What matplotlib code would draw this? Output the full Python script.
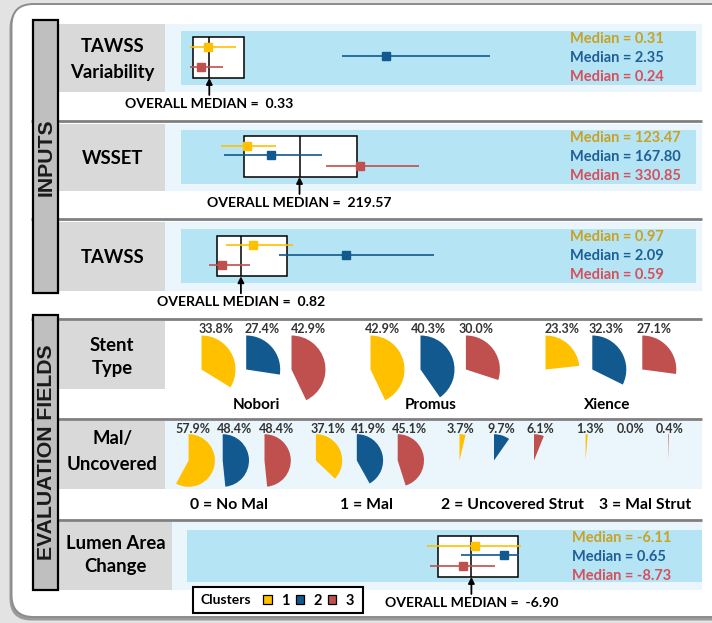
import matplotlib
matplotlib.use('Agg')
import matplotlib.pyplot as plt
from matplotlib.patches import Rectangle, FancyBboxPatch

# ---------------- data ----------------
clusters = ['1', '2', '3']

tawssv_median = [0.31, 2.35, 0.24]
tawssv_lo = [0.114, 1.85, 0.114]
tawssv_hi = [0.641, 3.55, 0.484]
tawssv_overall = 0.33
tawssv_box = [0.146, 0.729]

wsset_median = [123.47, 167.80, 330.85]
wsset_lo = [74.9, 80.6, 267.9]
wsset_hi = [175.5, 260.3, 440.0]
wsset_overall = 219.57
wsset_box = [116.8, 325.0]

tawss_median = [0.97, 2.09, 0.59]
tawss_lo = [0.64, 1.28, 0.43]
tawss_hi = [1.45, 3.14, 0.93]
tawss_overall = 0.82
tawss_box = [0.53, 1.37]

lumen_median = [-6.11, 0.65, -8.73]
lumen_lo = [-17.0, -9.2, -16.5]
lumen_hi = [4.4, 4.1, -1.4]
lumen_overall = -6.90
lumen_box = [-14.6, 3.8]

stent_types = ['Nobori', 'Promus', 'Xience']
stent_nobori = [33.8, 27.4, 42.9]
stent_promus = [42.9, 40.3, 30.0]
stent_xience = [23.3, 32.3, 27.1]

mal_labels = ['0 = No Mal', '1 = Mal', '2 = Uncovered Strut', '3 = Mal Strut']
mal_0 = [57.9, 48.4, 48.4]
mal_1 = [37.1, 41.9, 45.1]
mal_2 = [3.7, 9.7, 6.1]
mal_3 = [1.3, 0.0, 0.4]

# ---------------- style ----------------
W, H = 712, 623
FONT = ['Lato', 'DejaVu Sans']
BANNER_FONT = ['Liberation Sans Narrow', 'Liberation Sans', 'DejaVu Sans']
C_FILL = ['#FFC000', '#11598F', '#C0504D']
C_TEXT = ['#C9A124', '#1F5F96', '#D4505C']
BAND = '#B5E4F5'
BAND_LIGHT = '#EAF6FC'
LABEL_GRAY = '#D9D9D9'
SEP = '#808080'

fig = plt.figure(figsize=(W / 100, H / 100), dpi=100)
fig.patch.set_facecolor('#E3E3E3')
bg = fig.add_axes([0, 0, 1, 1], zorder=0)
bg.set_xlim(0, W)
bg.set_ylim(H, 0)
bg.axis('off')


def px_axes(x0, y0, x1, y1, z=2):
    return fig.add_axes([x0 / W, 1 - y1 / H, (x1 - x0) / W, (y1 - y0) / H], zorder=z)


def ctext(x, y, s, size, ax=None, ha='center', color='black', weight='bold', family=FONT, **kw):
    """Place text with its cap-height centre at pixel y (bg coordinates unless ax given)."""
    ax = ax or bg
    return ax.text(x, y + 0.36 * size * 100 / 72, s, fontsize=size, ha=ha, va='baseline',
                   color=color, fontweight=weight, family=family, **kw)


# outer frame with shadow
bg.add_patch(FancyBboxPatch((9.5, 6.5), 760, 614, boxstyle='round,pad=0,rounding_size=22',
                            fc='#9A9A9A', ec='none', zorder=0))
bg.add_patch(FancyBboxPatch((11.5, 4), 760, 613, boxstyle='round,pad=0,rounding_size=22',
                            fc='white', ec='#8C8C8C', lw=1.4, zorder=0.5))

# separators
for y in [120.7, 219.3, 319, 419, 520]:
    bg.plot([31, 702], [y, y], color=SEP, lw=2.0, solid_capstyle='butt', zorder=1)

# row label boxes and light bands
rows = [
    (24, 92, ['TAWSS', 'Variability'], [45, 71], 164.5),
    (124, 190.7, ['WSSET'], [157], 164.5),
    (222, 290.7, ['TAWSS'], [256], 164.5),
    (321, 389.3, ['Stent', 'Type'], [344.2, 367.5], 164.5),
    (421, 489, ['Mal/', 'Uncovered'], [437.5, 463], 164.5),
    (522, 590, ['Lumen Area', 'Change'], [542.5, 565.5], 171.7),
]
for i, (y0, y1, lines, ys, xr) in enumerate(rows):
    bg.add_patch(Rectangle((31.7, y0), xr - 31.7, y1 - y0, fc=LABEL_GRAY, ec='none', zorder=1))
    if i != 3:
        bg.add_patch(Rectangle((xr, y0), 702 - xr, y1 - y0, fc=BAND_LIGHT, ec='none', zorder=1))
    for s, yy in zip(lines, ys):
        ctext((58 + xr) / 2 + 1, yy, s, 13.3, zorder=3)

# section banners
for (y0, y1, label, yc) in [(20, 293.3, 'INPUTS', 157), (315, 590, 'EVALUATION FIELDS', 452.5)]:
    bg.add_patch(Rectangle((33.2, y0), 25, y1 - y0, fc='#BFBFBF', ec='black', lw=1.6, zorder=4))
    bg.text(46.2, yc, label, rotation=90, ha='center', va='center', fontsize=15.3,
            fontweight='bold', family=BANNER_FONT, color='#1a1a1a', zorder=5)


# ---------------- forest panels ----------------
def forest(band, xlim, med, lo, hi, overall, box, text_x):
    x0, x1, y0, y1 = band
    ax = px_axes(x0, y0, x1, y1)
    ax.set_facecolor(BAND)
    ax.set_xlim(*xlim)
    ax.set_ylim(y1, y0)
    for sp in ax.spines.values():
        sp.set_visible(False)
    ax.set_xticks([])
    ax.set_yticks([])
    by0, by1 = y0 + 6.3, y0 + 47
    ax.add_patch(Rectangle((box[0], by0), box[1] - box[0], by1 - by0, fc='white', ec='black',
                           lw=1.1, zorder=2))
    ax.vlines(overall, by0, by1, color='black', lw=1.1, zorder=3)
    for k, off in enumerate([16, 25.3, 36]):
        yy = y0 + off
        ax.hlines(yy, lo[k], hi[k], color=C_FILL[k], lw=1.2, zorder=4)
        ax.plot([med[k]], [yy], marker='s', ms=5.6, color=C_FILL[k], mec=C_FILL[k], zorder=5)
        t = ctext(text_x, y0 + 6.3 + 19 * k, f'Median = {med[k]:.2f}', 10.5, ax=ax,
                  color=C_TEXT[k], ha='left', zorder=6, clip_on=False)
        t.set_transform(bg.transData)
    ax.annotate('', xy=(overall, by1), xytext=(overall, by1 + 17),
                arrowprops=dict(arrowstyle='-|>', color='black', lw=1.3, mutation_scale=9,
                                shrinkA=0, shrinkB=0),
                annotation_clip=False, zorder=6)
    ctext(overall, y0 + 72, f'OVERALL MEDIAN =  {overall:.2f}', 10.1, ax=ax, clip_on=False)
    return ax


forest((180.5, 695.5, 31, 85), (0, 5.9), tawssv_median, tawssv_lo, tawssv_hi,
       tawssv_overall, tawssv_box, 570.5)
forest((180.5, 695.5, 130, 184), (0, 950), wsset_median, wsset_lo, wsset_hi,
       wsset_overall, wsset_box, 570.5)
forest((180.5, 695.5, 229.3, 283.3), (0.093, 6.29), tawss_median, tawss_lo, tawss_hi,
       tawss_overall, tawss_box, 570.5)
forest((186.7, 702, 530, 582), (-72.2, 46.0), lumen_median, lumen_lo, lumen_hi,
       lumen_overall, lumen_box, 571.8)


# ---------------- pie wedges ----------------
def wedge(cx, cy, r, p, color):
    ax = px_axes(cx - r, cy - r, cx + r, cy + r, z=3)
    ax.pie([p, 100 - p], colors=[color, (0, 0, 0, 0)], startangle=90, counterclock=False,
           radius=1, wedgeprops=dict(linewidth=0))
    ax.set_xlim(-1, 1)
    ax.set_ylim(-1, 1)
    ax.set_aspect('auto')
    ax.axis('off')


stent_groups = [stent_nobori, stent_promus, stent_xience]
stent_cx = [201.5, 246.2, 291.5, 370.5, 420.5, 465.9, 545.5, 592.3, 642.3]
stent_lx = [216.4, 262.0, 308.0, 382.5, 428.0, 475.7, 561.8, 606.4, 654.1]
stent_gx = [256.5, 430.9, 606.8]
for g, vals in enumerate(stent_groups):
    for k, p in enumerate(vals):
        j = 3 * g + k
        wedge(stent_cx[j], 369.5, 34, p, C_FILL[k])
        ctext(stent_lx[j], 328.3, f'{p:.1f}%', 9, color='#333333', zorder=3)
    ctext(stent_gx[g], 403.8, stent_types[g], 11, zorder=3)

mal_groups = [mal_0, mal_1, mal_2, mal_3]
mal_cx = [188.6, 222.7, 264.5, 315.9, 356.8, 397.7, 459.5, 494.0, 534.0, 585.6, 631.0, 668.3]
mal_lx = [193.2, 234.1, 276.8, 327.7, 368.9, 409.1, 460.8, 501.8, 540.8, 590.0, 630.2, 669.2]
mal_gx = [229.0, 366.4, 512.2, 645.0]
for g, vals in enumerate(mal_groups):
    for k, p in enumerate(vals):
        j = 3 * g + k
        wedge(mal_cx[j], 460.5, 26.3, p, C_FILL[k])
        ctext(mal_lx[j], 428.3, f'{p:.1f}%', 9, color='#333333', zorder=3)
    ctext(mal_gx[g], 503.3, mal_labels[g], 11.3, zorder=3)

# ---------------- legend ----------------
bg.add_patch(Rectangle((193.3, 586.7), 169.4, 26, fc='white', ec='black', lw=1.5, zorder=3))
ctext(200.7, 599.5, 'Clusters', 10, ha='left', zorder=4)
for k, name in enumerate(clusters):
    sx = 263.3 + 32.2 * k
    bg.add_patch(Rectangle((sx, 595), 8.6, 9, fc=C_FILL[k], ec='black', lw=0.9, zorder=4))
    ctext(sx + 22, 599.5, name, 10.5, zorder=4)

fig.savefig('out.png', dpi=100, facecolor=fig.get_facecolor())
